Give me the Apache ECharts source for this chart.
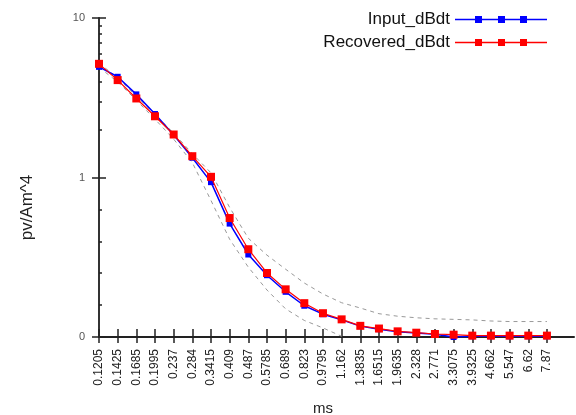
<!DOCTYPE html>
<html>
<head>
<meta charset="utf-8">
<script src="https://cdn.jsdelivr.net/npm/echarts@6/dist/echarts.min.js"></script>
<style>
html,body{margin:0;padding:0;background:#fff;}
#chart{width:576px;height:415px;}
</style>
</head>
<body>
<div id="chart"></div>
<script>
const categories = ['0.1205','0.1425','0.1685','0.1995','0.237','0.284','0.3415','0.409','0.487','0.5785','0.689','0.823','0.9795','1.162','1.3835','1.6515','1.9635','2.328','2.771','3.3075','3.9325','4.662','5.547','6.62','7.87'];
const inputValues = [4.94,4.28,3.32,2.50,1.85,1.33,0.935,0.514,0.329,0.244,0.192,0.157,0.139,0.128,0.117,0.112,0.108,0.106,0.104,0.100,0.101,0.101,0.101,0.101,0.101];
const recoveredValues = [5.16,4.08,3.13,2.42,1.86,1.36,1.01,0.557,0.355,0.252,0.199,0.163,0.141,0.129,0.1175,0.113,0.1085,0.1064,0.1044,0.1034,0.102,0.102,0.102,0.102,0.102];
const upperBound = [5.2,4.22,3.24,2.48,1.9,1.41,1.07,0.649,0.416,0.326,0.266,0.218,0.186,0.164,0.152,0.140,0.135,0.132,0.130,0.129,0.128,0.126,0.125,0.125,0.125];
const lowerBound = [4.9,3.98,3.05,2.32,1.74,1.24,0.718,0.41,0.274,0.197,0.150,0.127,0.114,0.101,null,null,null,null,null,null,null,null,null,null,null];
const yTickLabels = {0.1:'0', 1:'1', 10:'10'};
const minorTickMultipliers = [2,3,4,5,6,7,8,9];

const idx = categories.map((c,i)=>i);
const toPairs = arr => arr.map((v,i)=>[i,v]).filter(p=>p[1]!==null);
const minorLog = [-0.8,-0.6,-0.4,-0.2].concat(minorTickMultipliers.map(m=>Math.log10(m)));

const chart = echarts.init(document.getElementById('chart'), null, {renderer:'canvas'});
const legendIcon = 'path://M0,2.75H92V4.25H0Z M20,0H27V7H20Z M43,0H50V7H43Z M65,0H72V7H65Z';
const xMax = 25.45;
const FONT = 'Liberation Sans, Arial, sans-serif';
const option = {
  animation:false,
  backgroundColor:'#fff',
  grid:{left:99, right:2, top:18, bottom:78, containLabel:false, outerBoundsMode:'none'},
  legend:{
    orient:'vertical', right:29, top:11, padding:0, itemGap:6,
    align:'right', itemWidth:92, itemHeight:7, icon:legendIcon,
    textStyle:{fontSize:17, color:'#111', fontFamily:FONT},
    data:['Input_dBdt','Recovered_dBdt']
  },
  xAxis:[
    {type:'value', min:0, max:xMax, position:'bottom',
     name:'ms', nameLocation:'middle', nameGap:64,
     nameTextStyle:{fontSize:15, color:'#222', fontFamily:FONT, padding:[0,27,0,0]},
     axisLine:{show:true, onZero:false, lineStyle:{color:'#222', width:2}},
     axisTick:{show:true, inside:false, length:6, customValues:idx, lineStyle:{color:'#222', width:1.5}},
     axisLabel:{show:true, customValues:idx, rotate:90, margin:12, fontSize:12, color:'#222',
       fontFamily:FONT,
       formatter:v=>categories[Math.round(v)]!==undefined?categories[Math.round(v)]:''},
     splitLine:{show:false}},
    {type:'value', min:0, max:xMax, position:'bottom',
     axisLine:{show:false, onZero:false},
     axisTick:{show:true, inside:true, length:8, customValues:idx, lineStyle:{color:'#222', width:1.5}},
     axisLabel:{show:false}, splitLine:{show:false}}
  ],
  yAxis:[
    {type:'log', logBase:10, min:0.1, max:10, position:'left',
     name:'pv/Am^4', nameLocation:'middle', nameGap:63,
     nameTextStyle:{fontSize:17, color:'#222', fontFamily:FONT, padding:[0,60,0,0]},
     axisLine:{show:true, onZero:false, lineStyle:{color:'#333', width:2}},
     axisTick:{show:true, inside:false, length:7, lineStyle:{color:'#222', width:1.5}},
     axisLabel:{show:true, margin:14, fontSize:11, color:'#555', fontFamily:FONT,
       formatter:v=>{const k=Math.round(Math.log10(v)); return yTickLabels[Math.pow(10,k)] || String(v);}},
     splitLine:{show:false}, minorTick:{show:false}},
    {type:'value', min:-1, max:1, position:'left', interval:1,
     axisLine:{show:false, onZero:false},
     axisTick:{show:true, inside:true, length:7, lineStyle:{color:'#222', width:1.5}},
     axisLabel:{show:false}, splitLine:{show:false}},
    {type:'value', min:-1, max:1, position:'left',
     axisLine:{show:false, onZero:false},
     axisTick:{show:true, inside:true, length:3, customValues:minorLog, lineStyle:{color:'#222', width:1.5}},
     axisLabel:{show:false}, splitLine:{show:false}}
  ],
  series:[
    {name:'upper', type:'line', data:toPairs(upperBound), showSymbol:false, symbol:'none',
     lineStyle:{color:'#999', width:1, type:[4,4]}, z:1, silent:true},
    {name:'lower', type:'line', data:toPairs(lowerBound), showSymbol:false, symbol:'none',
     lineStyle:{color:'#999', width:1, type:[4,4]}, z:1, silent:true},
    {name:'Input_dBdt', type:'line', data:toPairs(inputValues), symbol:'rect', symbolSize:6,
     itemStyle:{color:'#0000ff'}, lineStyle:{color:'#0000ff', width:1.5}, z:2},
    {name:'Recovered_dBdt', type:'line', data:toPairs(recoveredValues), symbol:'rect', symbolSize:8,
     itemStyle:{color:'#ff0000'}, lineStyle:{color:'#ff0000', width:1.2}, z:3}
  ]
};
chart.setOption(option);
</script>
</body>
</html>
